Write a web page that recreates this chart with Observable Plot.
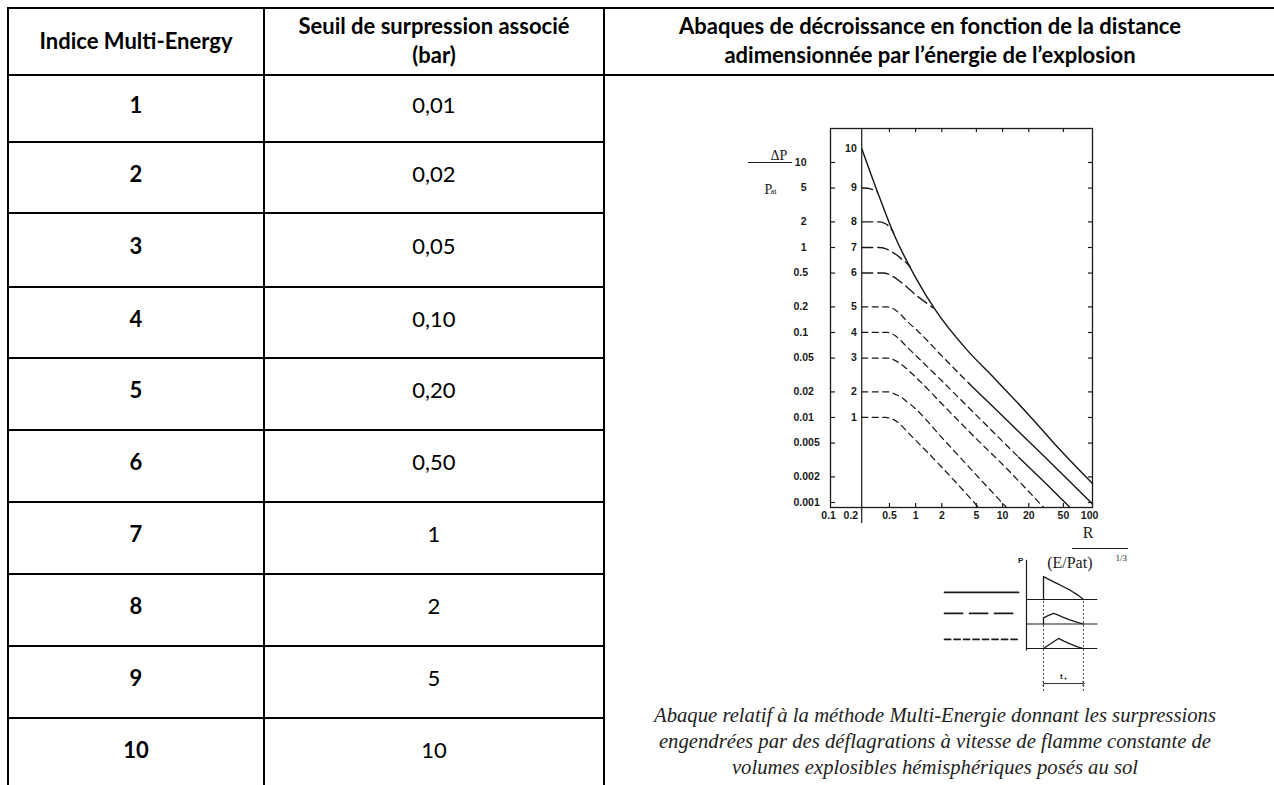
<!DOCTYPE html>
<html lang="fr">
<head>
<meta charset="utf-8">
<title>Indice Multi-Energy</title>
<script src="https://cdn.jsdelivr.net/npm/d3@7"></script>
<script src="https://cdn.jsdelivr.net/npm/@observablehq/plot@0.6"></script>
<style>
  html, body { margin: 0; padding: 0; background: #fff; }
  #page { position: relative; width: 1274px; height: 785px; overflow: hidden; background: #fff; color: #000;
          font-family: Lato, "Open Sans", sans-serif; }
  .ln { position: absolute; background: #000; }
  .txt { position: absolute; transform: translate(-50%, -50%); white-space: nowrap; font-size: 22px; line-height: 1; }
  .b { font-weight: 700; }
  .caption { position: absolute; font-family: "Liberation Serif", "Times New Roman", serif; font-style: italic;
             font-size: 20.7px; line-height: 26px; text-align: center; color: #1e1e1e; white-space: nowrap; }
  .box { position: absolute; }
</style>
</head>
<body>
<div id="page"></div>
<script>
// ---------------- table content ----------------
const indices = ["1", "2", "3", "4", "5", "6", "7", "8", "9", "10"];
const seuils = ["0,01", "0,02", "0,05", "0,10", "0,20", "0,50", "1", "2", "5", "10"];
const headerIndice = ["Indice Multi-Energy"];
const headerSeuil = ["Seuil de surpression associé", "(bar)"];
const headerAbaque = ["Abaques de décroissance en fonction de la distance",
                      "adimensionnée par l’énergie de l’explosion"];
const captionLines = ["Abaque relatif à la méthode Multi-Energie donnant les surpressions",
                      "engendrées par des déflagrations à vitesse de flamme constante de",
                      "volumes explosibles hémisphériques posés au sol"];

// ---------------- chart content ----------------
const xTickValues = [0.1, 0.2, 0.5, 1, 2, 5, 10, 20, 50, 100];
const xTickLabels = ["0.1", "0.2", "0.5", "1", "2", "5", "10", "20", "50", "100"];
const xTickMarks = [0.5, 1, 2, 5, 10, 20, 50];
const yTickValues = [10, 5, 2, 1, 0.5, 0.2, 0.1, 0.05, 0.02, 0.01, 0.005, 0.002, 0.001];
const yTickLabels = ["10", "5", "2", "1", "0.5", "0.2", "0.1", "0.05", "0.02", "0.01", "0.005", "0.002", "0.001"];
const curveIds = [1, 2, 3, 4, 5, 6, 7, 8, 9, 10];
const curveStarts = [0.01, 0.02, 0.05, 0.1, 0.2, 0.5, 1, 2, 5, 14.6];
const chargeRadius = 0.24;

// curves: [R/(E/Pat)^1/3, ΔP/Pat]
const curve1 = [[0.24, 0.01], [0.45, 0.01], [0.55, 0.0095], [0.65, 0.0085], [0.8, 0.0068], [1, 0.0054], [2, 0.0026], [5.3, 0.000873]];
const curve2 = [[0.24, 0.02], [0.48, 0.02], [0.6, 0.0185], [0.7, 0.017], [0.8, 0.0152], [0.96, 0.0131], [2, 0.0058], [5, 0.0021], [11.1, 0.000873]];
const curve3 = [[0.24, 0.05], [0.48, 0.05], [0.6, 0.046], [0.73, 0.04], [0.86, 0.0345], [1.05, 0.0285], [2, 0.0145], [5, 0.0056], [10, 0.0028], [29.6, 0.000873]];
const curve4Dashed = [[0.24, 0.1], [0.47, 0.1], [0.58, 0.092], [0.67, 0.081], [0.8, 0.067], [0.96, 0.056], [2, 0.027], [5, 0.0106], [15.3, 0.0034]];
const curve4Solid = [[15.3, 0.0034], [30, 0.00175], [59.6, 0.000873]];
const curve5Dashed = [[0.24, 0.2], [0.47, 0.2], [0.58, 0.185], [0.67, 0.163], [0.8, 0.135], [1.05, 0.105], [2, 0.053], [4.1, 0.0252]];
const curve5Solid = [[4.1, 0.0252], [10, 0.0104], [30, 0.0035], [108, 0.00096]];
const curve6 = [[0.24, 0.5], [0.42, 0.5], [0.5, 0.48], [0.56, 0.45], [0.68, 0.39], [0.8, 0.34], [0.95, 0.29], [1.14, 0.25], [1.35, 0.22], [1.6, 0.195]];
const curve7 = [[0.24, 1], [0.38, 1], [0.45, 0.97], [0.52, 0.9], [0.6, 0.82], [0.68, 0.74], [0.78, 0.66], [0.87, 0.59]];
const curve8 = [[0.24, 2], [0.38, 2], [0.43, 1.95], [0.48, 1.82], [0.53, 1.62], [0.56, 1.48]];
const curve9 = [[0.24, 5], [0.28, 4.98], [0.32, 4.8], [0.36, 4.5]];
const envelope10 = [[0.24, 14.6], [0.366, 4.44], [0.558, 1.46], [1, 0.443], [1.7, 0.182], [3.96, 0.0612], [7.87, 0.0296], [22.7, 0.00928], [44, 0.00434], [108, 0.00167]];

const segments = [
  {id: "1", style: "short", pts: curve1},
  {id: "2", style: "short", pts: curve2},
  {id: "3", style: "short", pts: curve3},
  {id: "4a", style: "short", pts: curve4Dashed},
  {id: "4b", style: "solid", pts: curve4Solid},
  {id: "5a", style: "short", pts: curve5Dashed},
  {id: "5b", style: "solid", pts: curve5Solid},
  {id: "6", style: "long", pts: curve6},
  {id: "7", style: "long", pts: curve7},
  {id: "8", style: "long", pts: curve8},
  {id: "9", style: "long", pts: curve9},
  {id: "10", style: "solid", pts: envelope10}
];
const curveRows = segments.flatMap(s => s.pts.map(([R, P]) => ({seg: s.id, style: s.style, R, P})));

// inset (pressure-time schematic): [t, p]
const pulseDetonation = [[1, 2], [1, 2.94], [1.2, 2.86], [1.4, 2.79], [1.6, 2.72], [1.82, 2.65], [2.2, 2.51], [2.59, 2.37], [3, 2.19], [3.35, 2]];
const pulseDeflagration = [[1, 1], [1, 1.25], [1.3, 1.35], [1.59, 1.43], [1.8, 1.38], [2.1, 1.29], [2.5, 1.18], [3, 1.07], [3.35, 1]];
const pulseWeak = [[1, 0], [1.88, 0.41], [2.2, 0.3], [2.6, 0.18], [3, 0.07], [3.35, 0]];
const insetBaselines = [2, 1, 0];
const tArrival = 1, tEnd = 3.35;
const legendSolid = [[-4.82, 2.29], [-0.47, 2.29]];
const legendLong = [[-4.82, 1.43], [-0.47, 1.43]];
const legendShort = [[-4.82, 0.37], [-0.47, 0.37]];

// ---------------- layout ----------------
const page = document.getElementById("page");
const ink = "#1a1a1a";
function add(cls, css, html) {
  const el = document.createElement("div");
  el.className = cls;
  Object.assign(el.style, css);
  if (html != null) el.innerHTML = html;
  page.appendChild(el);
  return el;
}
const TL = {left: 8, c1: 264, c2: 604, right: 1274, top: 8, bottom: 785,
            rows: [75, 142, 213, 287, 358, 430, 502, 574, 646, 718, 790]};
const lw = 2;
add("ln", {left: TL.left - 1 + "px", top: TL.top - 1 + "px", width: TL.right - TL.left + 1 + "px", height: lw + "px"});
add("ln", {left: TL.left - 1 + "px", top: TL.rows[0] - 1 + "px", width: TL.right - TL.left + 1 + "px", height: lw + "px"});
for (let i = 1; i < TL.rows.length - 1; i++) {
  add("ln", {left: TL.left - 1 + "px", top: TL.rows[i] - 1 + "px", width: TL.c2 - TL.left + 2 + "px", height: lw + "px"});
}
for (const x of [TL.left, TL.c1, TL.c2]) {
  add("ln", {left: x - 1 + "px", top: TL.top - 1 + "px", width: lw + "px", height: TL.bottom - TL.top + 2 + "px"});
}
const cx1 = (TL.left + TL.c1) / 2, cx2 = (TL.c1 + TL.c2) / 2, cx3 = 930;
add("txt b", {left: cx1 + "px", top: "41px"}, headerIndice[0]);
add("txt b", {left: cx2 + "px", top: "26px"}, headerSeuil[0]);
add("txt b", {left: cx2 + "px", top: "55px"}, headerSeuil[1]);
add("txt b", {left: cx3 + "px", top: "26px"}, headerAbaque[0]);
add("txt b", {left: cx3 + "px", top: "55px"}, headerAbaque[1]);
indices.forEach((d, i) => {
  const cy = (TL.rows[i] + TL.rows[i + 1]) / 2 - 4;
  add("txt b", {left: cx1 + "px", top: cy + "px"}, d);
  add("txt", {left: cx2 + "px", top: cy + "px"}, seuils[i]);
});
add("caption", {left: "604px", width: "662px", top: "702px"}, captionLines.join("<br>"));

// ---------------- main chart (Observable Plot) ----------------
const frameW = 262, frameH = 379;
const svgLeft = 700, svgTop = 110, W = 460, H = 480;
const mLeft = 830 - svgLeft, mTop = 128 - svgTop;
const mRight = W - mLeft - frameW, mBottom = H - mTop - frameH;
const xDomain = [0.105, 108], yDomain = [0.000873, 25.1];
const serif = "'Liberation Serif', 'Times New Roman', serif";

const intLabels = yTickValues.map((v, i) => ({v, t: yTickLabels[i]})).filter(d => d.v >= 1);
const decLabels = yTickValues.map((v, i) => ({v, t: yTickLabels[i]})).filter(d => d.v < 1);
const xLabels = xTickValues.map((v, i) => ({v, t: xTickLabels[i]}));

const chart = Plot.plot({
  width: W, height: H,
  marginLeft: mLeft, marginRight: mRight, marginTop: mTop, marginBottom: mBottom,
  x: {type: "log", domain: xDomain, axis: null},
  y: {type: "log", domain: yDomain, axis: null},
  style: {background: "transparent", overflow: "visible", fontFamily: "'Liberation Sans', Arial, sans-serif", fontSize: "10.5px", color: ink},
  marks: [
    Plot.frame({stroke: ink, strokeWidth: 1.3}),
    Plot.ruleX([chargeRadius], {stroke: ink, strokeWidth: 1.2, insetBottom: -16}),
    Plot.tickY(yTickValues, {stroke: ink, strokeWidth: 1.2, insetRight: frameW - 5}),
    Plot.tickY(yTickValues, {stroke: ink, strokeWidth: 1.2, insetLeft: frameW - 4}),
    Plot.tickX(xTickMarks, {stroke: ink, strokeWidth: 1.2, insetBottom: frameH - 4}),
    Plot.tickX(xTickMarks, {stroke: ink, strokeWidth: 1.2, insetTop: frameH - 4}),
    Plot.line(curveRows.filter(d => d.style === "solid"), {x: "R", y: "P", z: "seg", stroke: ink, strokeWidth: 1.45, curve: "monotone-x"}),
    Plot.line(curveRows.filter(d => d.style === "long"), {x: "R", y: "P", z: "seg", stroke: ink, strokeWidth: 1.4, strokeDasharray: "11,5", curve: "monotone-x"}),
    Plot.line(curveRows.filter(d => d.style === "short"), {x: "R", y: "P", z: "seg", stroke: ink, strokeWidth: 1.25, strokeDasharray: "6,4.5", curve: "monotone-x"}),
    Plot.text(curveIds, {x: () => chargeRadius, y: (d, i) => curveStarts[i], text: d => String(d), dx: -5, textAnchor: "end", fontWeight: "bold"}),
    Plot.text(intLabels, {frameAnchor: "left", y: "v", text: "t", dx: -24, textAnchor: "end", fontWeight: "bold"}),
    Plot.text(decLabels, {frameAnchor: "left", y: "v", text: "t", dx: -37, textAnchor: "start", fontWeight: "bold"}),
    Plot.text(xLabels.filter(d => d.t !== "0.2"), {x: "v", frameAnchor: "bottom", text: "t", dy: 11, fontWeight: "bold"}),
    Plot.text(xLabels.filter(d => d.t === "0.2"), {x: "v", frameAnchor: "bottom", text: "t", dy: 11, dx: -4, fontWeight: "bold"}),
    Plot.text(["ΔP"], {frameAnchor: "top-left", dx: -60, dy: 22, fontFamily: serif, fontSize: 14}),
    Plot.ruleY([10], {stroke: ink, strokeWidth: 1.1, insetLeft: -82, insetRight: frameW + 38}),
    Plot.text(["P"], {frameAnchor: "top-left", dx: -66, dy: 56, fontFamily: serif, fontSize: 14}),
    Plot.text(["at"], {frameAnchor: "top-left", dx: -60, dy: 59, fontFamily: serif, fontSize: 8.5, textAnchor: "start"}),
    Plot.text(["R"], {frameAnchor: "bottom-right", dx: 1, dy: 30, fontFamily: serif, fontSize: 16}),
    Plot.ruleY([yDomain[0]], {stroke: ink, strokeWidth: 1.1, dy: 41, insetLeft: 242, insetRight: -36}),
    Plot.text(["(E/Pat)"], {frameAnchor: "bottom-right", dx: 0, dy: 60, fontFamily: serif, fontSize: 16}),
    Plot.text(["1/3"], {frameAnchor: "bottom-right", dx: 23, dy: 53, fontFamily: serif, fontSize: 9, textAnchor: "start"})
  ]
});
const box = add("box", {left: svgLeft + "px", top: svgTop + "px"});
box.appendChild(chart);

// ---------------- inset legend (pressure-time shapes) ----------------
const toRows = (pts, id) => pts.map(([t, p]) => ({id, t, p}));
const inset = Plot.plot({
  width: 180, height: 150, marginLeft: 11, marginRight: 7.5, marginTop: 2, marginBottom: 1,
  x: {domain: [-5, 4.5], axis: null},
  y: {domain: [-2, 4], axis: null},
  style: {background: "transparent", overflow: "visible", fontFamily: "'Liberation Sans', Arial, sans-serif", color: ink},
  marks: [
    Plot.ruleX([0], {y1: -0.1, y2: 3.6, stroke: ink, strokeWidth: 1.2}),
    Plot.ruleY(insetBaselines, {x1: 0, x2: 4.2, stroke: ink, strokeWidth: 1.2}),
    Plot.ruleX([tArrival, tEnd], {y1: -1.75, y2: 2, stroke: ink, strokeWidth: 0.8, strokeDasharray: "2,2"}),
    Plot.line([...toRows(pulseDetonation, "a"), ...toRows(pulseDeflagration, "b"), ...toRows(pulseWeak, "c")],
              {x: "t", y: "p", z: "id", stroke: ink, strokeWidth: 1.3}),
    Plot.line(toRows(legendSolid, "s"), {x: "t", y: "p", stroke: ink, strokeWidth: 1.8}),
    Plot.line(toRows(legendLong, "l"), {x: "t", y: "p", stroke: ink, strokeWidth: 1.8, strokeDasharray: "18,7"}),
    Plot.line(toRows(legendShort, "k"), {x: "t", y: "p", stroke: ink, strokeWidth: 1.8, strokeDasharray: "6,3.5"}),
    Plot.link([{x1: tArrival, x2: tEnd, y: -1.43}], {x1: "x1", x2: "x2", y1: "y", y2: "y", stroke: ink, strokeWidth: 0.9, markerStart: "arrow", markerEnd: "arrow"}),
    Plot.text(["t"], {x: () => 2.05, y: () => -1.12, text: d => d, fontSize: 8, fontWeight: "bold"}),
    Plot.text(["+"], {x: () => 2.3, y: () => -1.22, text: d => d, fontSize: 6, fontWeight: "bold"}),
    Plot.text(["P"], {x: () => -0.35, y: () => 3.6, text: d => d, fontSize: 8, fontWeight: "bold"})
  ]
});
const ibox = add("box", {left: "930px", top: "548px"});
ibox.appendChild(inset);
</script>
</body>
</html>
